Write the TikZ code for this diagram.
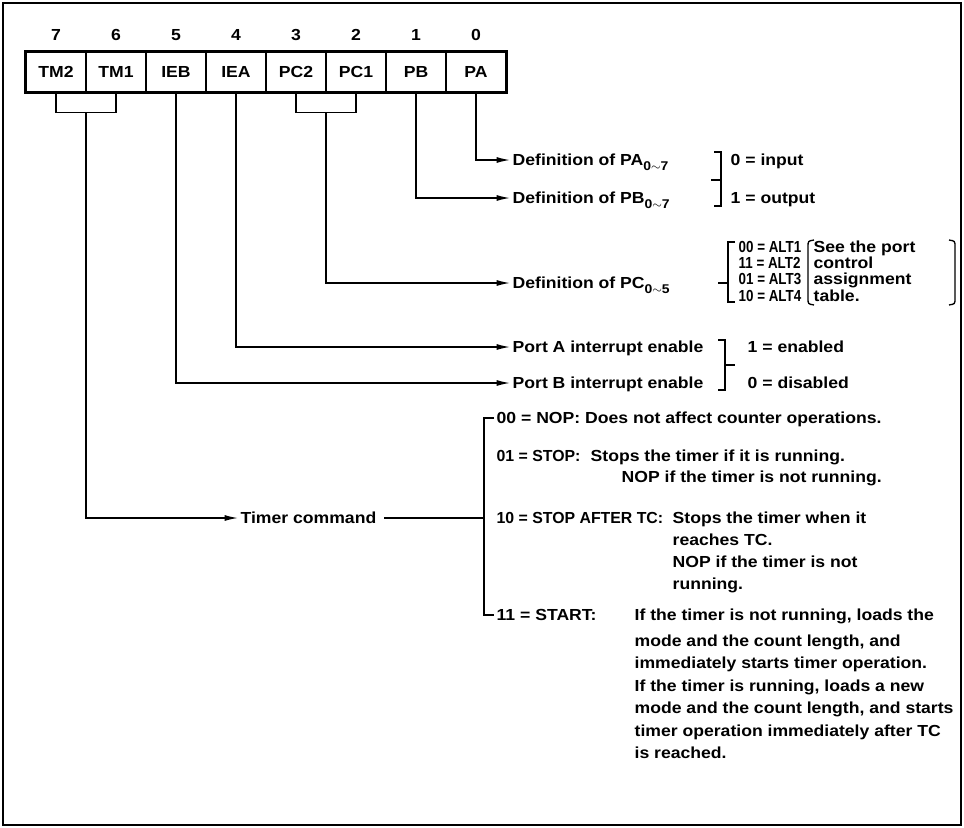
\documentclass[tikz,border=0pt]{standalone}
\usepackage{fontspec}
\setmainfont[FakeStretch=1.1]{Liberation Sans}
\usetikzlibrary{calc}
\usetikzlibrary{arrows.meta}
\newcommand{\sbs}[1]{\raisebox{-0.6ex}{\fontsize{9.5}{9.5}\selectfont #1}}

\begin{document}
\begin{tikzpicture}[x=0.75pt, y=-0.75pt, line width=1pt,
    font=\fontsize{12}{14}\selectfont\bfseries,
    cell/.style={draw, minimum width=45pt, minimum height=30pt, inner sep=0pt},
    txt/.style={anchor=west, inner sep=1.5pt, text height=9.5pt, text depth=1.5pt},
    arr/.style={-{Latex[length=10pt, width=4.5pt]}}]
    \useasboundingbox (0,0) rectangle (964,828);
    \draw[line width=1.6pt] (3,3) rectangle (961,825);
    \foreach \lbl [count=\i from 0] in {TM2,TM1,IEB,IEA,PC2,PC1,PB,PA} {
      \pgfmathtruncatemacro{\bitno}{7-\i}
      \node[cell] (\lbl) at (56+60*\i,72) {\lbl};
      \node (n\bitno) at (56+60*\i,35) {\bitno};
    }
    \draw[line width=1.8pt] (TM2.north west) rectangle (PA.south east);
    \coordinate (tmbr) at ($(TM2.south)!0.5!(TM1.south)+(0,20)$);
    \coordinate (pcbr) at ($(PC2.south)!0.5!(PC1.south)+(0,20)$);
    \draw (TM2.south) -- ++(0,20) -| (TM1.south);
    \draw (PC2.south) -- ++(0,20) -| (PC1.south);
    \node[txt] (defPA) at (510,160) {Definition of PA\sbs{0$\sim$7}};
    \node[txt] (defPB) at (510,198) {Definition of PB\sbs{0$\sim$7}};
    \node[txt] (defPC) at (510,283) {Definition of PC\sbs{0$\sim$5}};
    \node[txt] (intA) at (510,347) {Port A interrupt enable};
    \node[txt] (intB) at (510,383) {Port B interrupt enable};
    \node[txt] (tmr) at (238,518) {Timer command};
    \draw[arr] (PA.south) |- (defPA.west);
    \draw[arr] (PB.south) |- (defPB.west);
    \draw[arr] (pcbr) |- (defPC.west);
    \draw[arr] (IEA.south) |- (intA.west);
    \draw[arr] (IEB.south) |- (intB.west);
    \draw[arr] (tmbr) |- (tmr.west);
    \node[txt] (inp) at (728,160) {0 = input};
    \node[txt] (outp) at (728,198) {1 = output};
    \draw (714,152) -- (721,152) -- (721,206) -- (714,206);
    \draw (711,180) -- (721,180);
    \draw (735,242) -- (728,242) -- (728,302) -- (735,302);
    \draw (718,283) -- (728,283);
    \foreach \yy/\txt [count=\k] in {247/00 = ALT1,263/11 = ALT2,279/01 = ALT3,296/10 = ALT4}
      \node[txt] (alt\k) at (736,\yy) {\scalebox{0.76}[1]{\txt}};
    \draw (814,240) .. controls (808,241) .. (808,247) -- (808,298) .. controls (808,304) .. (814,305);
    \draw (949,240) .. controls (955,241) .. (955,247) -- (955,298) .. controls (955,304) .. (949,305);
    \foreach \yy/\txt [count=\k] in {247/See the port,263/control,279/assignment,296/table.}
      \node[txt] (see\k) at (811,\yy) {\txt};
    \draw (718,340) -- (725,340) -- (725,390) -- (718,390);
    \draw (725,365) -- (735,365);
    \node[txt] (en) at (745,347) {1 = enabled};
    \node[txt] (dis) at (745,383) {0 = disabled};
    \coordinate (tbr) at (484,518);
    \draw ([xshift=4pt]tmr.east) -- (tbr);
    \node[txt] (nop) at (494,418) {00 = NOP: Does not affect counter operations.};
    \node[txt] (stop) at (494,456) {\scalebox{0.9}[1]{01 = STOP:}};
    \node[txt] (stopa) at (588,456) {Stops the timer if it is running.};
    \node[txt] (stopb) at (619,477) {NOP if the timer is not running.};
    \node[txt] (stc) at (494,518) {\scalebox{0.9}[1]{10 = STOP AFTER TC:}};
    \foreach \yy/\txt [count=\k] in {518/Stops the timer when it,540/reaches TC.,562/NOP if the timer is not,584/running.}
      \node[txt] (stc\k) at (670,\yy) {\txt};
    \node[txt] (start) at (494,615) {11 = START:};
    \foreach \yy/\txt [count=\k] in {615/{If the timer is not running, loads the},641/{mode and the count length, and},663/immediately starts timer operation.,686/{If the timer is running, loads a new},708/{mode and the count length, and starts},731/timer operation immediately after TC,753/is reached.}
      \node[txt] (start\k) at (632,\yy) {\txt};
    \draw (nop.west) -| (tbr) |- (start.west);
  \end{tikzpicture}
\end{document}
